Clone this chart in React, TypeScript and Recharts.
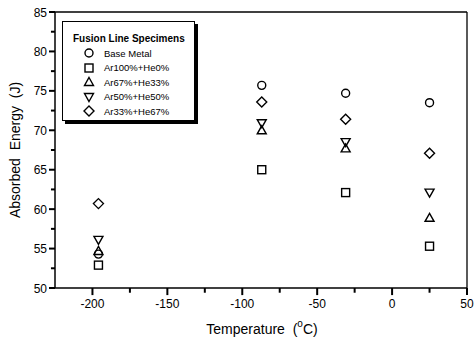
import type { FC } from 'react';
import { ScatterChart, Scatter, XAxis, YAxis, ReferenceLine } from 'recharts';

const temperatures = [-196, -87, -31, 25];
const baseMetal = [54.3, 75.7, 74.7, 73.5];
const ar100he0 = [52.9, 65.0, 62.1, 55.3];
const ar67he33 = [54.7, 70.0, 67.7, 58.9];
const ar50he50 = [56.1, 70.9, 68.5, 62.1];
const ar33he67 = [60.7, 73.6, 71.4, 67.1];

const xTicks = [-200, -175, -150, -125, -100, -75, -50, -25, 0, 25, 50];
const yTicks = [50, 52.5, 55, 57.5, 60, 62.5, 65, 67.5, 70, 72.5, 75, 77.5, 80, 82.5, 85];

const X_MIN = -225;
const X_MAX = 50;
const Y_MIN = 50;
const Y_MAX = 85;

type Kind = 'circle' | 'square' | 'up' | 'down' | 'diamond';

const series: { name: string; kind: Kind; values: number[] }[] = [
  { name: 'Base Metal', kind: 'circle', values: baseMetal },
  { name: 'Ar100%+He0%', kind: 'square', values: ar100he0 },
  { name: 'Ar67%+He33%', kind: 'up', values: ar67he33 },
  { name: 'Ar50%+He50%', kind: 'down', values: ar50he50 },
  { name: 'Ar33%+He67%', kind: 'diamond', values: ar33he67 },
];

const FONT = '"Liberation Sans", Arial, sans-serif';

const Marker: FC<{ kind: Kind; cx: number; cy: number }> = ({ kind, cx, cy }) => {
  const common = { fill: 'none', stroke: '#000', strokeWidth: 1.4 };
  switch (kind) {
    case 'circle':
      return <circle cx={cx} cy={cy} r={4} {...common} />;
    case 'square':
      return <rect x={cx - 4} y={cy - 4} width={8} height={8} {...common} />;
    case 'up':
      return <path d={`M${cx},${cy - 4.5} L${cx + 4.5},${cy + 3.5} L${cx - 4.5},${cy + 3.5} Z`} {...common} />;
    case 'down':
      return <path d={`M${cx},${cy + 4.5} L${cx + 4.5},${cy - 3.5} L${cx - 4.5},${cy - 3.5} Z`} {...common} />;
    default:
      return <path d={`M${cx},${cy - 5} L${cx + 5},${cy} L${cx},${cy + 5} L${cx - 5},${cy} Z`} {...common} />;
  }
};

// labels only for the major ticks (the marks themselves are reference segments below)
const XTick = (props: any) => {
  const x = Number(props.x);
  const y = Number(props.y);
  if (Number(props.payload.value) % 50 !== 0) return <g />;
  return (
    <text x={x} y={y + 20} textAnchor="middle" fontSize={12} fontFamily={FONT} fill="#000">
      {props.payload.value}
    </text>
  );
};

const YTick = (props: any) => {
  const x = Number(props.x);
  const y = Number(props.y);
  if (Number(props.payload.value) % 5 !== 0) return <g />;
  return (
    <text x={x - 8} y={y + 4.5} textAnchor="end" fontSize={12} fontFamily={FONT} fill="#000">
      {props.payload.value}
    </text>
  );
};

const LegendBox: FC = () => (
  <div
    style={{
      position: 'absolute',
      left: 62,
      top: 21,
      width: 133,
      height: 100,
      border: '1px solid #000',
      boxShadow: '3px 3px 0 #000',
      background: '#fff',
      fontFamily: FONT,
      boxSizing: 'border-box',
      paddingTop: 10,
    }}
  >
    <div style={{ fontWeight: 'bold', fontSize: 10, lineHeight: '14px', paddingLeft: 10 }}>Fusion Line Specimens</div>
    {series.map((s) => (
      <div key={s.name} style={{ display: 'flex', alignItems: 'center', height: 14.5, fontSize: 9.5 }}>
        <svg width={12} height={12} style={{ marginLeft: 20, marginRight: 9 }}>
          <Marker kind={s.kind} cx={6} cy={6} />
        </svg>
        <span>{s.name}</span>
      </div>
    ))}
  </div>
);

export default function App() {
  return (
    <div style={{ position: 'absolute', left: 0, top: 0, width: 474, height: 342, background: '#fff' }}>
      <ScatterChart width={474} height={342} margin={{ top: 12, right: 7, left: 0, bottom: 0 }}>
        <XAxis
          type="number"
          dataKey="x"
          domain={[X_MIN, X_MAX]}
          ticks={xTicks}
          interval={0}
          tickSize={0}
          tickMargin={0}
          tickLine={false}
          tick={<XTick />}
          height={54}
          stroke="#000"
          strokeWidth={1.5}
          allowDataOverflow
          label={{
            value: 'Temperature',
            content: () => (
              <text x={262} y={334} textAnchor="middle" fontSize={14} fontFamily={FONT} fill="#000" style={{ whiteSpace: 'pre' }}>
                {'Temperature  ('}
                <tspan fontSize={10} dy={-7}>o</tspan>
                <tspan dy={7}>C)</tspan>
              </text>
            ),
          }}
        />
        <YAxis
          type="number"
          dataKey="y"
          domain={[Y_MIN, Y_MAX]}
          ticks={yTicks}
          interval={0}
          tickSize={0}
          tickMargin={0}
          tickLine={false}
          tick={<YTick />}
          width={55}
          stroke="#000"
          strokeWidth={1.5}
          allowDataOverflow
          label={{
            value: 'Absorbed Energy (J)',
            content: () => (
              <text x={20} y={150} transform="rotate(-90 20 150)" textAnchor="middle" fontSize={14} fontFamily={FONT} fill="#000" style={{ whiteSpace: 'pre' }}>
                {'Absorbed  Energy  (J)'}
              </text>
            ),
          }}
        />
        {/* frame on the top and right */}
        <ReferenceLine y={Y_MAX} stroke="#000" strokeWidth={1.3} ifOverflow="visible" />
        <ReferenceLine x={X_MAX} stroke="#000" strokeWidth={1.3} ifOverflow="visible" />
        {/* tick marks, outward; minor ones shorter */}
        {xTicks.map((v) => (
          <ReferenceLine
            key={`xt${v}`}
            segment={[{ x: v, y: Y_MIN }, { x: v, y: Y_MIN - (v % 50 === 0 ? 0.9 : 0.6) }]}
            stroke="#000"
            strokeWidth={2}
            ifOverflow="visible"
          />
        ))}
        {yTicks.map((v) => (
          <ReferenceLine
            key={`yt${v}`}
            segment={[{ x: X_MIN, y: v }, { x: X_MIN - (v % 5 === 0 ? 4 : 2.7), y: v }]}
            stroke="#000"
            strokeWidth={2}
            ifOverflow="visible"
          />
        ))}
        {series.map((s) => (
          <Scatter
            key={s.name}
            name={s.name}
            data={temperatures.map((t, i) => ({ x: t, y: s.values[i] }))}
            isAnimationActive={false}
            shape={(p: any) => <Marker kind={s.kind} cx={p.cx} cy={p.cy} />}
          />
        ))}
      </ScatterChart>
      <LegendBox />
    </div>
  );
}
